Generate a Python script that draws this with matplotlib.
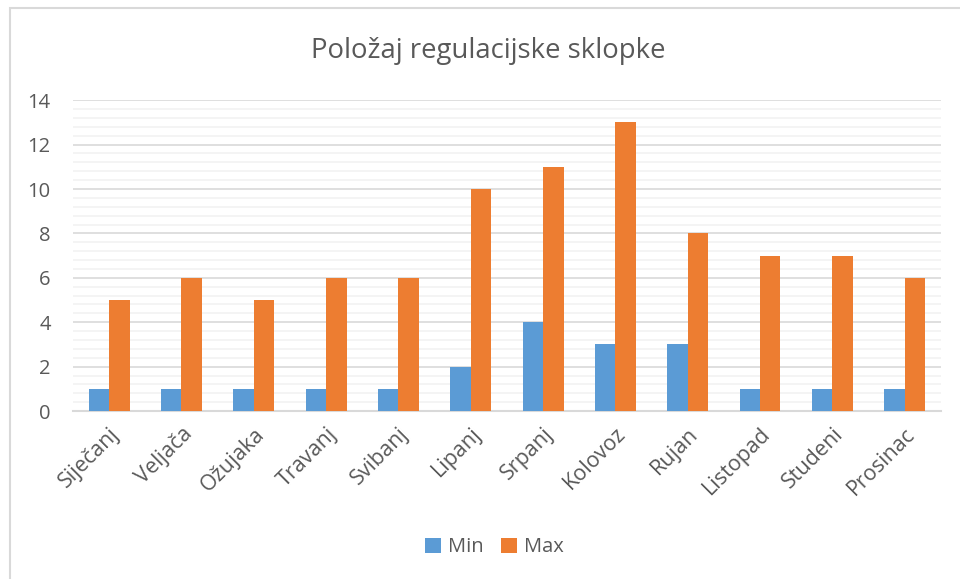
import matplotlib.pyplot as plt
import numpy as np
from matplotlib.patches import Rectangle
from matplotlib.ticker import MultipleLocator

plt.rcParams['font.family'] = ['Open Sans', 'DejaVu Sans']

months = ['Siječanj', 'Veljača', 'Ožujaka', 'Travanj', 'Svibanj', 'Lipanj',
          'Srpanj', 'Kolovoz', 'Rujan', 'Listopad', 'Studeni', 'Prosinac']
min_vals = [1, 1, 1, 1, 1, 2, 4, 3, 3, 1, 1, 1]
max_vals = [5, 6, 5, 6, 6, 10, 11, 13, 8, 7, 7, 6]

grey = '#595959'
fig = plt.figure(figsize=(9.6, 5.79), dpi=100)
ax = fig.add_axes([0.076, 0.290, 0.904, 0.537])

x = np.arange(len(months))
w = 0.283
ax.bar(x - w / 2, min_vals, w, color='#5B9BD5', label='Min', zorder=3)
ax.bar(x + w / 2, max_vals, w, color='#ED7D31', label='Max', zorder=3)

ax.set_xlim(-0.5, len(months) - 0.5)
ax.set_ylim(0, 14)
ax.yaxis.set_major_locator(MultipleLocator(2))
ax.yaxis.set_minor_locator(MultipleLocator(0.4))
ax.grid(axis='y', which='major', color='#D9D9D9', lw=1.2, zorder=0)
ax.grid(axis='y', which='minor', color='#F2F2F2', lw=1.2, zorder=0)
for s in ['top', 'right', 'left']:
    ax.spines[s].set_visible(False)
ax.spines['bottom'].set_color('#D9D9D9')
ax.spines['bottom'].set_linewidth(1.5)
ax.tick_params(which='both', length=0)
ax.tick_params(axis='y', labelsize=14.5, labelcolor=grey, pad=16)
ax.set_xticks(x)
ax.set_xticklabels(months, rotation=45, ha='right', rotation_mode='anchor',
                   fontsize=15.5, color=grey)
ax.tick_params(axis='x', pad=9)

fig.text(0.509, 0.912, 'Položaj regulacijske sklopke', ha='center', va='center',
         fontsize=19.8, color=grey)

fig.legend(loc='center', bbox_to_anchor=(0.515, 0.055), ncol=2, frameon=False,
           fontsize=14.5, labelcolor=grey, handlelength=0.75, handleheight=0.75,
           handletextpad=0.35, columnspacing=0.9)

fig.patches.append(Rectangle((10 / 960, -0.1), 1.2, 1 - 8 / 579 + 0.1,
                             transform=fig.transFigure, fill=False,
                             edgecolor='#D9D9D9', lw=1.5))

fig.savefig('out.png', dpi=100, facecolor='white')
